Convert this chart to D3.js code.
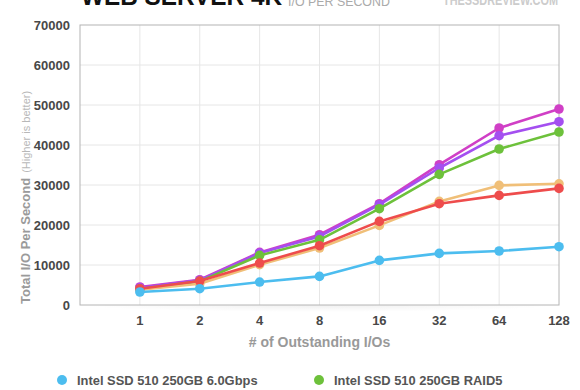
<!DOCTYPE html>
<html>
<head>
<meta charset="utf-8">
<script src="https://cdn.jsdelivr.net/npm/d3@7"></script>
<style>
  body { margin: 0; background: #fff; }
  svg { font-family: 'Liberation Sans', Arial, Helvetica, sans-serif; display: block; }
</style>
</head>
<body>
<svg class="chart" width="580" height="390"></svg>
<script>
const categories = ['1', '2', '4', '8', '16', '32', '64', '128']
const yTicks = [0, 10000, 20000, 30000, 40000, 50000, 60000, 70000]

const seriesNames = [
  'Intel SSD 510 250GB 6.0Gbps',
  'Intel SSD 510 250GB RAID5',
  'Intel SSD 510 250GB RAID0 x2',
  'Intel SSD 510 250GB RAID0 x3',
  'Intel SSD 510 250GB RAID0 x4',
  'Intel SSD 510 250GB RAID10'
]
const seriesColors = ['#4cbdef', '#6dc13b', '#f0bf78', '#ee4c4c', '#a44ff0', '#d03fc6']

const single = [3250, 4075, 5740, 7150, 11150, 12900, 13500, 14575]
const raid5 = [3990, 5900, 12400, 16300, 24075, 32660, 39000, 43250]
const raid0x2 = [3830, 5320, 10075, 14240, 19900, 25900, 29900, 30300]
const raid0x3 = [4075, 5990, 10490, 14825, 20900, 25325, 27400, 29150]
const raid0x4 = [4300, 6150, 13000, 17150, 25075, 34250, 42330, 45825]
const raid10 = [4500, 6325, 13150, 17575, 25325, 35075, 44250, 49000]

const seriesValues = [single, raid5, raid0x2, raid0x3, raid0x4, raid10]
// back to front, as stacked in the picture
const drawOrder = [5, 4, 1, 2, 3, 0]

const plotLeft = 80
const plotRight = 559
const plotTop = 25
const plotBottom = 305

const chart = d3.select('.chart')

// slot 0 is the empty left margin of the plot, categories sit on slots 1..8
const xScale = d3.scaleLinear().domain([0, categories.length]).range([plotLeft, plotRight])
const yScale = d3.scaleLinear().domain([0, 70000]).range([plotBottom, plotTop])

// title
chart.append('text')
  .attr('x', 81).attr('y', 5)
  .attr('font-size', 26).attr('font-weight', 'bold').attr('fill', '#111')
  .attr('textLength', 201).attr('lengthAdjust', 'spacingAndGlyphs')
  .text('WEB SERVER 4K')
chart.append('text')
  .attr('x', 288).attr('y', 6)
  .attr('font-size', 12.4).attr('fill', '#aaa')
  .text('I/O PER SECOND')
chart.append('text')
  .attr('x', 443).attr('y', 5)
  .attr('font-size', 14).attr('font-weight', 'bold').attr('fill', '#ccc')
  .attr('textLength', 115).attr('lengthAdjust', 'spacingAndGlyphs')
  .text('THESSDREVIEW.COM')

// soft shadow under the plot
const shade = chart.append('defs').append('radialGradient').attr('id', 'shade')
shade.append('stop').attr('offset', '0%').attr('stop-color', '#000').attr('stop-opacity', 0.06)
shade.append('stop').attr('offset', '100%').attr('stop-color', '#000').attr('stop-opacity', 0)
chart.append('ellipse')
  .attr('cx', (plotLeft + plotRight) / 2).attr('cy', plotBottom)
  .attr('rx', (plotRight - plotLeft) / 2).attr('ry', 7)
  .attr('fill', 'url(#shade)')
chart.append('rect')
  .attr('x', plotLeft).attr('y', plotTop)
  .attr('width', plotRight - plotLeft).attr('height', plotBottom - plotTop)
  .attr('fill', '#fff')

// grid
chart.append('g').attr('class', 'gridY')
  .selectAll('line')
  .data(yTicks.slice(1, -1))
  .enter()
  .append('line')
  .attr('x1', plotLeft).attr('x2', plotRight)
  .attr('y1', d => yScale(d)).attr('y2', d => yScale(d))
  .attr('stroke', '#e6e6e6')

chart.append('g').attr('class', 'gridX')
  .selectAll('line')
  .data(categories.slice(0, -1))
  .enter()
  .append('line')
  .attr('x1', (d, i) => xScale(i + 1)).attr('x2', (d, i) => xScale(i + 1))
  .attr('y1', plotTop).attr('y2', plotBottom)
  .attr('stroke', '#e6e6e6')

chart.append('rect')
  .attr('x', plotLeft).attr('y', plotTop)
  .attr('width', plotRight - plotLeft).attr('height', plotBottom - plotTop)
  .attr('fill', 'none').attr('stroke', '#b4b4b4')

// y axis labels
chart.append('g').attr('class', 'axisLeft')
  .selectAll('text')
  .data(yTicks)
  .enter()
  .append('text')
  .attr('x', 70)
  .attr('y', d => yScale(d))
  .attr('dy', '0.35em')
  .attr('text-anchor', 'end')
  .attr('font-size', 13).attr('font-weight', 'bold').attr('fill', '#484848')
  .text(d => d)

const yTitle = chart.append('text')
  .attr('transform', 'translate(30,304) rotate(-90)')
  .attr('font-weight', 'bold')
yTitle.append('tspan')
  .attr('font-size', 13).attr('fill', '#9a9a9a')
  .text('Total I/O Per Second')
yTitle.append('tspan')
  .attr('dx', 5)
  .attr('font-size', 11).attr('font-weight', 'normal').attr('fill', '#b8b8b8')
  .text('(Higher is better)')

// x axis labels
chart.append('g').attr('class', 'axisBottom')
  .selectAll('text')
  .data(categories)
  .enter()
  .append('text')
  .attr('x', (d, i) => xScale(i + 1))
  .attr('y', 325)
  .attr('text-anchor', 'middle')
  .attr('font-size', 13).attr('font-weight', 'bold').attr('fill', '#484848')
  .text(d => d)

chart.append('text')
  .attr('x', (plotLeft + plotRight) / 2).attr('y', 347)
  .attr('text-anchor', 'middle')
  .attr('font-size', 14).attr('font-weight', 'bold').attr('fill', '#999')
  .text('# of Outstanding I/Os')

// series
const line = d3.line()
  .x((d, i) => xScale(i + 1))
  .y(d => yScale(d))

const series = chart.append('g').attr('class', 'series')
  .selectAll('g')
  .data(drawOrder)
  .enter()
  .append('g')

series.append('path')
  .attr('d', s => line(seriesValues[s]))
  .attr('fill', 'none')
  .attr('stroke', s => seriesColors[s])
  .attr('stroke-width', 2.6)
  .attr('stroke-linejoin', 'round')

series.each((s, k, nodes) => {
  d3.select(nodes[k]).selectAll('circle')
    .data(seriesValues[s])
    .enter()
    .append('circle')
    .attr('cx', (d, i) => xScale(i + 1))
    .attr('cy', d => yScale(d))
    .attr('r', 4.8)
    .attr('fill', seriesColors[s])
})

// legend, two columns
const legend = chart.append('g').attr('class', 'legend')
  .selectAll('g')
  .data(seriesNames)
  .enter()
  .append('g')
  .attr('transform', (d, i) => `translate(${i % 2 === 0 ? 62 : 319},${380 + Math.floor(i / 2) * 22})`)

legend.append('circle')
  .attr('r', 5)
  .attr('fill', (d, i) => seriesColors[i])
legend.append('text')
  .attr('x', 15)
  .attr('dy', '0.35em')
  .attr('font-size', 12.9).attr('font-weight', 'bold').attr('fill', '#555')
  .text(d => d)
</script>
</body>
</html>
